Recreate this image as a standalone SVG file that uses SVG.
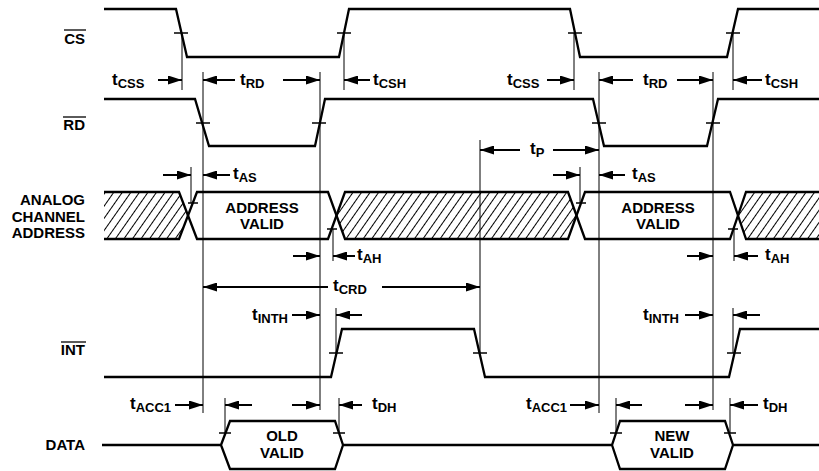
<svg xmlns="http://www.w3.org/2000/svg" width="819" height="471" viewBox="0 0 819 471">
<style>
.sig{fill:none;stroke:#000;stroke-width:2.3;stroke-linejoin:miter}
.ref{stroke:#000;stroke-width:1;fill:none}
.tick{stroke:#000;stroke-width:1.5}
.arr{stroke:#000;stroke-width:2;fill:none;marker-end:url(#ah)}
.ov{stroke:#000;stroke-width:1.3}
text{font-family:"Liberation Sans",Arial,Helvetica,sans-serif;font-weight:bold;fill:#000}
.lbl{font-size:15px;text-anchor:end}
.mid{font-size:15px;text-anchor:middle}
.t{font-size:17px}
.s{font-size:13px}
</style>
<defs>
<marker id="ah" markerUnits="userSpaceOnUse" markerWidth="14" markerHeight="9" refX="14" refY="4.5" orient="auto">
<path d="M0,0 L14,4.5 L0,9 Z" fill="#000"/>
</marker>
<pattern id="hatch" patternUnits="userSpaceOnUse" width="7" height="10" patternTransform="rotate(35)">
<line x1="0.5" y1="0" x2="0.5" y2="10" stroke="#000" stroke-width="1"/>
</pattern>
</defs>
<rect width="819" height="471" fill="#fff"/>

<g id="cs">
<text class="lbl" x="85" y="44">CS</text>
<line class="ov" x1="64" y1="30" x2="86" y2="30"/>
<path class="sig" d="M104,9 H176 L187,57 H339 L349,9 H570 L580,57 H727 L738,9 H819"/>
<line class="tick" x1="174" y1="33" x2="188" y2="33"/>
<line class="tick" x1="337" y1="33" x2="351" y2="33"/>
<line class="tick" x1="568" y1="33" x2="582" y2="33"/>
<line class="tick" x1="726" y1="33" x2="740" y2="33"/>
</g>

<g id="rd">
<text class="lbl" x="85" y="130">RD</text>
<line class="ov" x1="63" y1="117" x2="86" y2="117"/>
<path class="sig" d="M104,99 H195 L209,146 H315 L325,99 H593 L604,146 H707 L718,99 H819"/>
<line class="tick" x1="196" y1="123" x2="210" y2="123"/>
<line class="tick" x1="312" y1="123" x2="326" y2="123"/>
<line class="tick" x1="592" y1="123" x2="606" y2="123"/>
<line class="tick" x1="706" y1="123" x2="720" y2="123"/>
</g>

<g id="address">
<text class="lbl" x="85" y="205">ANALOG</text>
<text class="lbl" x="85" y="222">CHANNEL</text>
<text class="lbl" x="85" y="238">ADDRESS</text>
<polygon points="104,192 179,192 188,215.5 179,239 104,239" fill="url(#hatch)"/>
<polygon points="345,192 568,192 576.5,215.5 568,239 345,239 336.5,215.5" fill="url(#hatch)"/>
<polygon points="746,192 819,192 819,239 746,239 738,215.5" fill="url(#hatch)"/>
<path class="sig" d="M104,192 H179 L197,239 H328 L345,192 H568 L585,239 H730 L746,192 H819"/>
<path class="sig" d="M104,239 H179 L197,192 H328 L345,239 H568 L585,192 H730 L746,239 H819"/>
<line class="tick" x1="188" y1="203" x2="198" y2="203"/>
<line class="tick" x1="327" y1="229" x2="337" y2="229"/>
<line class="tick" x1="576" y1="203" x2="586" y2="203"/>
<line class="tick" x1="728" y1="229" x2="738" y2="229"/>
<text class="mid" x="262" y="213">ADDRESS</text>
<text class="mid" x="262" y="229">VALID</text>
<text class="mid" x="658" y="213">ADDRESS</text>
<text class="mid" x="658" y="229">VALID</text>
</g>

<g id="int">
<text class="lbl" x="85" y="355">INT</text>
<line class="ov" x1="61" y1="342" x2="86" y2="342"/>
<path class="sig" d="M104,377 H331 L342,329 H474 L485,377 H729 L740,329 H819"/>
<line class="tick" x1="329" y1="353" x2="343" y2="353"/>
<line class="tick" x1="473" y1="353" x2="487" y2="353"/>
<line class="tick" x1="727" y1="353" x2="741" y2="353"/>
</g>

<g id="data">
<text class="lbl" x="85" y="450">DATA</text>
<path class="sig" d="M102,445 H221 L230,421 H335 L343,445 L335,469 H230 L221,445 M343,445 H612 L620,421 H725 L733,445 L725,469 H620 L612,445 M733,445 H819"/>
<line class="tick" x1="219" y1="433" x2="231" y2="433"/>
<line class="tick" x1="333" y1="433" x2="345" y2="433"/>
<line class="tick" x1="610" y1="433" x2="622" y2="433"/>
<line class="tick" x1="724" y1="433" x2="736" y2="433"/>
<text class="mid" x="282" y="441">OLD</text>
<text class="mid" x="282" y="458">VALID</text>
<text class="mid" x="672" y="441">NEW</text>
<text class="mid" x="672" y="458">VALID</text>
</g>

<g id="connectors">
<g id="reflines">
<line class="ref" x1="182" y1="33" x2="182" y2="90"/>
<line class="ref" x1="203" y1="72" x2="203" y2="413"/>
<line class="ref" x1="320" y1="72" x2="320" y2="410"/>
<line class="ref" x1="344" y1="33" x2="344" y2="90"/>
<line class="ref" x1="191" y1="167" x2="191" y2="203"/>
<line class="ref" x1="333" y1="229" x2="333" y2="261"/>
<line class="ref" x1="336" y1="308" x2="336" y2="353"/>
<line class="ref" x1="225" y1="398" x2="225" y2="433"/>
<line class="ref" x1="339" y1="398" x2="339" y2="433"/>
<line class="ref" x1="480" y1="140" x2="480" y2="353"/>
<line class="ref" x1="574" y1="33" x2="574" y2="90"/>
<line class="ref" x1="599" y1="72" x2="599" y2="413"/>
<line class="ref" x1="713" y1="72" x2="713" y2="410"/>
<line class="ref" x1="733" y1="33" x2="733" y2="90"/>
<line class="ref" x1="580" y1="167" x2="580" y2="203"/>
<line class="ref" x1="734" y1="229" x2="734" y2="261"/>
<line class="ref" x1="733" y1="308" x2="733" y2="353"/>
<line class="ref" x1="616" y1="398" x2="616" y2="433"/>
<line class="ref" x1="730" y1="398" x2="730" y2="433"/>
</g>
<g id="arrows">
<line class="arr" x1="158" y1="80" x2="182" y2="80"/>
<line class="arr" x1="235" y1="80" x2="203" y2="80"/>
<line class="arr" x1="283" y1="80" x2="320" y2="80"/>
<line class="arr" x1="370" y1="80" x2="344" y2="80"/>
<line class="arr" x1="547" y1="80" x2="574" y2="80"/>
<line class="arr" x1="633" y1="80" x2="599" y2="80"/>
<line class="arr" x1="677" y1="80" x2="713" y2="80"/>
<line class="arr" x1="762" y1="80" x2="733" y2="80"/>
<line class="arr" x1="520" y1="150" x2="480" y2="150"/>
<line class="arr" x1="553" y1="150" x2="599" y2="150"/>
<line class="arr" x1="163" y1="175" x2="191" y2="175"/>
<line class="arr" x1="230" y1="175" x2="203" y2="175"/>
<line class="arr" x1="553" y1="175" x2="580" y2="175"/>
<line class="arr" x1="625" y1="175" x2="599" y2="175"/>
<line class="arr" x1="293" y1="256" x2="320" y2="256"/>
<line class="arr" x1="355" y1="256" x2="333" y2="256"/>
<line class="arr" x1="687" y1="256" x2="713" y2="256"/>
<line class="arr" x1="758" y1="256" x2="734" y2="256"/>
<line class="arr" x1="328" y1="287" x2="203" y2="287"/>
<line class="arr" x1="382" y1="287" x2="480" y2="287"/>
<line class="arr" x1="292" y1="315" x2="320" y2="315"/>
<line class="arr" x1="362" y1="315" x2="336" y2="315"/>
<line class="arr" x1="685" y1="315" x2="713" y2="315"/>
<line class="arr" x1="760" y1="315" x2="733" y2="315"/>
<line class="arr" x1="175" y1="405" x2="203" y2="405"/>
<line class="arr" x1="252" y1="405" x2="225" y2="405"/>
<line class="arr" x1="292" y1="405" x2="320" y2="405"/>
<line class="arr" x1="362" y1="405" x2="339" y2="405"/>
<line class="arr" x1="570" y1="405" x2="599" y2="405"/>
<line class="arr" x1="642" y1="405" x2="616" y2="405"/>
<line class="arr" x1="685" y1="405" x2="713" y2="405"/>
<line class="arr" x1="758" y1="405" x2="730" y2="405"/>
</g>
<g id="timing-labels">
<text class="t" x="112" y="85">t<tspan class="s" dy="2.5">CSS</tspan></text>
<text class="t" x="240" y="85">t<tspan class="s" dy="2.5">RD</tspan></text>
<text class="t" x="373" y="85">t<tspan class="s" dy="2.5">CSH</tspan></text>
<text class="t" x="507" y="85">t<tspan class="s" dy="2.5">CSS</tspan></text>
<text class="t" x="643" y="85">t<tspan class="s" dy="2.5">RD</tspan></text>
<text class="t" x="765" y="85">t<tspan class="s" dy="2.5">CSH</tspan></text>
<text class="t" x="530" y="154">t<tspan class="s" dy="2.5">P</tspan></text>
<text class="t" x="233" y="179">t<tspan class="s" dy="2.5">AS</tspan></text>
<text class="t" x="632" y="179">t<tspan class="s" dy="2.5">AS</tspan></text>
<text class="t" x="357" y="260">t<tspan class="s" dy="2.5">AH</tspan></text>
<text class="t" x="765" y="260">t<tspan class="s" dy="2.5">AH</tspan></text>
<text class="t" x="333" y="291">t<tspan class="s" dy="2.5">CRD</tspan></text>
<text class="t" x="252" y="320">t<tspan class="s" dy="2.5">INTH</tspan></text>
<text class="t" x="643" y="320">t<tspan class="s" dy="2.5">INTH</tspan></text>
<text class="t" x="130" y="409">t<tspan class="s" dy="2.5">ACC1</tspan></text>
<text class="t" x="372" y="409">t<tspan class="s" dy="2.5">DH</tspan></text>
<text class="t" x="526" y="409">t<tspan class="s" dy="2.5">ACC1</tspan></text>
<text class="t" x="763" y="409">t<tspan class="s" dy="2.5">DH</tspan></text>
</g>
</g>
</svg>
